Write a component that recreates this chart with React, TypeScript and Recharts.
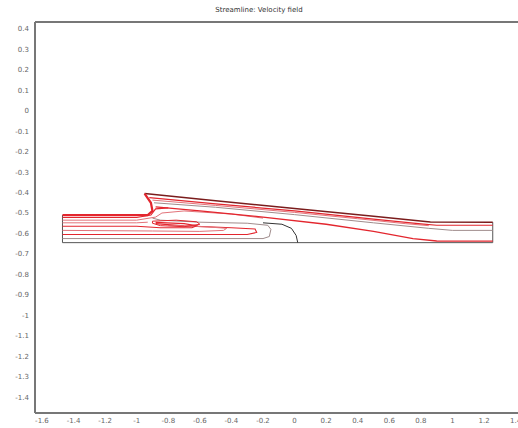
import { LineChart, Line, XAxis, YAxis, ReferenceLine } from "recharts";

type Pt = { x: number; y: number };
const pts = (a: number[][]): Pt[] => a.map(([x, y]) => ({ x, y }));

const xTicks = [-1.6, -1.4, -1.2, -1, -0.8, -0.6, -0.4, -0.2, 0, 0.2, 0.4, 0.6, 0.8, 1, 1.2, 1.4];
const yTicks = [0.4, 0.3, 0.2, 0.1, 0, -0.1, -0.2, -0.3, -0.4, -0.5, -0.6, -0.7, -0.8, -0.9, -1, -1.1, -1.2, -1.3, -1.4];

// domain outline (channel walls)
const wall = pts([[-1.47, -0.51], [-1.47, -0.645], [1.255, -0.645], [1.255, -0.545]]);
const topSlope = pts([[-0.95, -0.405], [-0.5, -0.44], [0, -0.478], [0.5, -0.516], [0.86, -0.544], [1.255, -0.545]]);
const inletTop = pts([[-1.47, -0.51], [-0.93, -0.51], [-0.9, -0.49], [-0.91, -0.45], [-0.95, -0.405]]);

// streamlines along the sloped section
const slopeB = pts([[-0.92, -0.425], [-0.5, -0.455], [0, -0.49], [0.5, -0.53], [0.8, -0.553], [0.9, -0.56], [1.255, -0.56]]);
const slopeB2 = pts([[-0.9, -0.437], [-0.5, -0.463], [0, -0.497], [0.4, -0.528], [0.7, -0.552], [0.85, -0.562]]);
const slopeC = pts([[-0.89, -0.45], [-0.5, -0.472], [0, -0.508], [0.5, -0.548], [0.85, -0.575], [1.0, -0.585], [1.255, -0.585]]);
const slopeD = pts([[-0.88, -0.47], [-0.6, -0.49], [-0.2, -0.52], [0.2, -0.555], [0.5, -0.59], [0.75, -0.625], [0.9, -0.637], [1.255, -0.638]]);
const inletE = pts([[-1.47, -0.522], [-1.0, -0.522], [-0.91, -0.51], [-0.88, -0.48], [-0.8, -0.475]]);
const inletE2 = pts([[-1.47, -0.535], [-1.0, -0.535], [-0.88, -0.52], [-0.84, -0.5], [-0.7, -0.49], [-0.4, -0.505], [-0.2, -0.525]]);

// recirculation below the step
const loopF = pts([[-0.9, -0.54], [-0.75, -0.535], [-0.62, -0.543], [-0.6, -0.555], [-0.7, -0.567], [-0.85, -0.562], [-0.9, -0.55], [-0.9, -0.54]]);
const recP1 = pts([[-1.47, -0.625], [-0.2, -0.625], [-0.16, -0.615], [-0.15, -0.58], [-0.17, -0.56], [-0.3, -0.55], [-0.6, -0.545], [-0.85, -0.535], [-0.9, -0.525]]);
const recP2 = pts([[-1.47, -0.605], [-0.6, -0.605], [-0.3, -0.605], [-0.24, -0.595], [-0.25, -0.578], [-0.4, -0.572], [-0.7, -0.563], [-0.88, -0.552]]);
const recP3 = pts([[-1.47, -0.585], [-0.9, -0.588], [-0.6, -0.59], [-0.45, -0.585], [-0.43, -0.575], [-0.55, -0.568], [-0.8, -0.56]]);
const recP4 = pts([[-1.47, -0.565], [-1.0, -0.565], [-0.85, -0.572], [-0.65, -0.572], [-0.62, -0.562], [-0.7, -0.552], [-0.88, -0.546]]);
const recP5 = pts([[-1.47, -0.548], [-1.0, -0.548], [-0.93, -0.545]]);
const separation = pts([[-0.2, -0.548], [-0.08, -0.555], [-0.02, -0.575], [0.01, -0.61], [0.02, -0.645]]);

const RED = "#e3262e";
const PINK = "#e2737a";
const DARK = "#7a1c1c";
const GRAY = "#a08c8c";

const series: { d: Pt[]; c: string; w: number }[] = [
  { d: wall, c: "#555", w: 1 },
  { d: recP1, c: GRAY, w: 1 },
  { d: recP2, c: RED, w: 1.1 },
  { d: recP3, c: PINK, w: 1 },
  { d: recP4, c: RED, w: 1.1 },
  { d: recP5, c: PINK, w: 1 },
  { d: loopF, c: RED, w: 1 },
  { d: separation, c: "#333", w: 1 },
  { d: inletE2, c: PINK, w: 1 },
  { d: inletE, c: RED, w: 1.2 },
  { d: slopeD, c: RED, w: 1.3 },
  { d: slopeC, c: GRAY, w: 1 },
  { d: slopeB2, c: PINK, w: 1 },
  { d: slopeB, c: RED, w: 1.2 },
  { d: topSlope, c: DARK, w: 1.6 },
  { d: inletTop, c: RED, w: 2.2 },
];

const fmt = (v: number) => String(Math.round(v * 10) / 10);

export default function App() {
  return (
    <div style={{ position: "fixed", left: 0, top: 0, width: 518, height: 428, background: "#fff" }}>
      <div
        style={{
          position: "absolute",
          top: 6,
          left: 0,
          width: 518,
          textAlign: "center",
          fontFamily: "DejaVu Sans",
          fontSize: 7,
          color: "#333",
        }}
      >
        Streamline: Velocity field
      </div>
      <LineChart width={518} height={428} margin={{ top: 22, right: 0, bottom: 0, left: 0 }}>
        <XAxis
          type="number"
          dataKey="x"
          domain={[-1.644, 1.415]}
          ticks={xTicks}
          tickFormatter={fmt}
          interval={0}
          allowDataOverflow
          height={15}
          tickLine={false}
          tickSize={3}
          axisLine={{ stroke: "#777", strokeWidth: 2 }}
          tick={{ fontSize: 7, fill: "#666", fontFamily: "DejaVu Sans" }}
        />
        <YAxis
          type="number"
          dataKey="y"
          domain={[-1.478, 0.434]}
          ticks={yTicks}
          tickFormatter={fmt}
          interval={0}
          allowDataOverflow
          width={35}
          tickLine={false}
          tickSize={4}
          axisLine={{ stroke: "#777", strokeWidth: 2 }}
          tick={{ fontSize: 7, fill: "#666", fontFamily: "DejaVu Sans" }}
        />
        <ReferenceLine y={0.434} stroke="#777" strokeWidth={2} />
        {series.map((s, i) => (
          <Line
            key={i}
            data={s.d}
            dataKey="y"
            type="linear"
            stroke={s.c}
            strokeWidth={s.w}
            dot={false}
            activeDot={false}
            isAnimationActive={false}
          />
        ))}
      </LineChart>
    </div>
  );
}
